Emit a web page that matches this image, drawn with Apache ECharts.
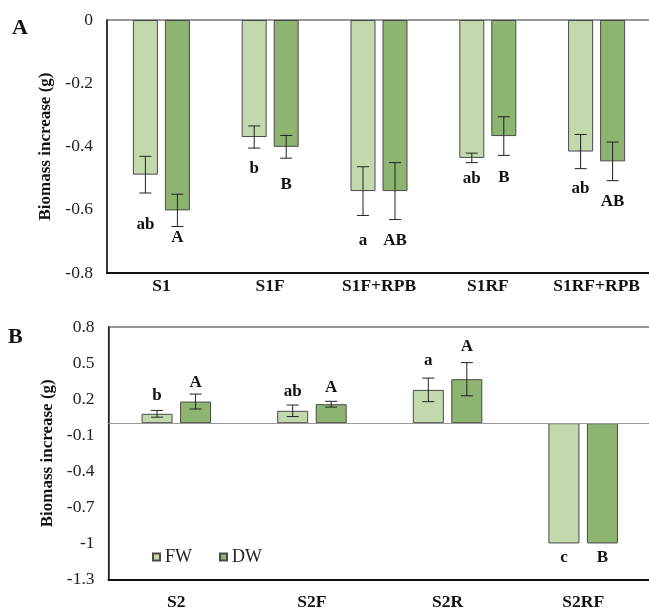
<!DOCTYPE html>
<html><head><meta charset="utf-8">
<script src="https://cdn.jsdelivr.net/npm/echarts@6/dist/echarts.min.js"></script>
<style>html,body{margin:0;padding:0;background:#fff}#c{width:649px;height:609px}</style>
</head><body><div id="c"></div>
<script>
// Panel A data
const catsA = ['S1', 'S1F', 'S1F+RPB', 'S1RF', 'S1RF+RPB'];
const fwA = [-0.489, -0.370, -0.541, -0.436, -0.416];
const dwA = [-0.602, -0.401, -0.541, -0.367, -0.447];
const fwErrA = [0.058, 0.035, 0.077, 0.015, 0.054];
const dwErrA = [0.051, 0.036, 0.090, 0.061, 0.061];
const fwLetA = ['ab', 'b', 'a', 'ab', 'ab'];
const dwLetA = ['A', 'B', 'AB', 'B', 'AB'];
const fwLetYA = [-0.646, -0.469, -0.697, -0.503, -0.533];
const dwLetYA = [-0.687, -0.522, -0.697, -0.498, -0.573];
const ticksA = [0, -0.2, -0.4, -0.6, -0.8];

// Panel B data
const catsB = ['S2', 'S2F', 'S2R', 'S2RF'];
const fwB = [0.078, 0.103, 0.277, -1.0];
const dwB = [0.180, 0.158, 0.366, -1.0];
const fwErrB = [0.028, 0.048, 0.098, 0];
const dwErrB = [0.062, 0.024, 0.138, 0];
const fwLetB = ['b', 'ab', 'a', 'c'];
const dwLetB = ['A', 'A', 'A', 'B'];
const fwLetYB = [0.230, 0.266, 0.521, -1.119];
const dwLetYB = [0.341, 0.294, 0.640, -1.119];
const ticksB = [0.8, 0.5, 0.2, -0.1, -0.4, -0.7, -1, -1.3];

const FONT = '"Liberation Serif", "Times New Roman", serif';
const FW_COLOR = '#c3d9ad', DW_COLOR = '#8db471', EDGE = '#4a4a4a';

const chart = echarts.init(document.getElementById('c'), null, {renderer: 'canvas'});

function errSeries(gi, vals, errs, letters, letterY, side, barW, gap) {
  return {
    type: 'custom', xAxisIndex: gi, yAxisIndex: gi, silent: true, z: 10,
    encode: {x: 0, y: 1},
    data: vals.map((v, i) => [i, v, errs[i], letterY[i]]),
    renderItem(params, api) {
      const i = api.value(0), v = api.value(1), e = api.value(2), ly = api.value(3);
      const c = api.coord([i, v]);
      const x = c[0] + side * (barW + gap) / 2;
      const ch = [];
      const st = {stroke: '#222', lineWidth: 1};
      if (e > 0) {
        const t = api.coord([i, v + e])[1], b = api.coord([i, v - e])[1];
        const hw = 6;
        ch.push({type: 'line', shape: {x1: x, y1: t, x2: x, y2: b}, style: st});
        ch.push({type: 'line', shape: {x1: x - hw, y1: t, x2: x + hw, y2: t}, style: st});
        ch.push({type: 'line', shape: {x1: x - hw, y1: b, x2: x + hw, y2: b}, style: st});
      }
      const ty = api.coord([i, ly])[1];
      ch.push({type: 'text', style: {text: letters[params.dataIndex], x: x, y: ty,
        align: 'center', verticalAlign: 'middle', font: 'bold 17px ' + FONT, fill: '#111'}});
      return {type: 'group', children: ch};
    }
  };
}

function fmt(v, list) {
  const r = Math.round(v * 10) / 10;
  return list.some(t => Math.abs(t - r) < 1e-6) ? String(r) : '';
}

const yCommon = {
  axisLine: {show: true, lineStyle: {color: '#222', width: 1.5}},
  axisTick: {show: false}, splitLine: {show: false},
  name: 'Biomass increase (g)', nameLocation: 'middle', nameGap: 52,
  nameTextStyle: {fontFamily: FONT, fontWeight: 'bold', fontSize: 17, color: '#111'}
};
const xCommon = {
  type: 'category', axisTick: {show: false},
  axisLine: {onZero: false, lineStyle: {color: '#111', width: 2}},
};

const barA = {barW: 25, gap: 7};
const barB = {barW: 31, gap: 7.5};

chart.setOption({
  animation: false,
  grid: [
    {left: 107, right: -2, top: 20, height: 253, outerBoundsMode: 'none', containLabel: false,
      show: true, borderColor: '#333', borderWidth: 1.2},
    {left: 108.5, right: -2, top: 327, height: 252.5, outerBoundsMode: 'none', containLabel: false,
      show: true, borderColor: '#333', borderWidth: 1.2}
  ],
  legend: {
    data: ['FW', 'DW'], left: 147, top: 543, itemWidth: 7, itemHeight: 7, itemGap: 27,
    icon: 'rect', selectedMode: false,
    textStyle: {fontFamily: FONT, fontSize: 18, color: '#222'}
  },
  xAxis: [
    Object.assign({}, xCommon, {gridIndex: 0, data: catsA,
      axisLabel: {interval: 0, fontFamily: FONT, fontWeight: 'bold', fontSize: 17.5, color: '#111', margin: 4}}),
    Object.assign({}, xCommon, {gridIndex: 1, data: catsB,
      axisLabel: {interval: 0, fontFamily: FONT, fontWeight: 'bold', fontSize: 17.5, color: '#111', margin: 14}})
  ],
  yAxis: [
    Object.assign({}, yCommon, {gridIndex: 0, type: 'value', min: -0.8, max: 0, interval: 0.2,
      axisLabel: {fontFamily: FONT, fontSize: 17.5, color: '#222', margin: 14,
        formatter: v => fmt(v, ticksA)}}),
    Object.assign({}, yCommon, {gridIndex: 1, type: 'value', min: -1.3, max: 0.8, interval: 0.1,
      axisLabel: {fontFamily: FONT, fontSize: 17.5, color: '#222', margin: 14,
        formatter: v => fmt(v, ticksB)}})
  ],
  series: [
    {name: 'FW', type: 'bar', xAxisIndex: 0, yAxisIndex: 0, data: fwA, barWidth: barA.barW,
      barGap: (barA.gap / barA.barW * 100) + '%',
      itemStyle: {color: FW_COLOR, borderColor: EDGE, borderWidth: 1}},
    {name: 'DW', type: 'bar', xAxisIndex: 0, yAxisIndex: 0, data: dwA, barWidth: barA.barW,
      barGap: (barA.gap / barA.barW * 100) + '%',
      itemStyle: {color: DW_COLOR, borderColor: EDGE, borderWidth: 1}},
    {name: 'FW', type: 'bar', xAxisIndex: 1, yAxisIndex: 1, data: fwB, barWidth: barB.barW,
      barGap: (barB.gap / barB.barW * 100) + '%',
      itemStyle: {color: FW_COLOR, borderColor: EDGE, borderWidth: 1},
      markLine: {silent: true, symbol: 'none', label: {show: false},
        lineStyle: {color: '#999', type: 'solid', width: 1}, data: [{yAxis: 0}]}},
    {name: 'DW', type: 'bar', xAxisIndex: 1, yAxisIndex: 1, data: dwB, barWidth: barB.barW,
      barGap: (barB.gap / barB.barW * 100) + '%',
      itemStyle: {color: DW_COLOR, borderColor: EDGE, borderWidth: 1}},
    errSeries(0, fwA, fwErrA, fwLetA, fwLetYA, -1, barA.barW, barA.gap),
    errSeries(0, dwA, dwErrA, dwLetA, dwLetYA, 1, barA.barW, barA.gap),
    errSeries(1, fwB, fwErrB, fwLetB, fwLetYB, -1, barB.barW, barB.gap),
    errSeries(1, dwB, dwErrB, dwLetB, dwLetYB, 1, barB.barW, barB.gap)
  ],
  graphic: [
    {type: 'text', left: 12, top: 17, style: {text: 'A', font: 'bold 22px ' + FONT, fill: '#111'}},
    {type: 'text', left: 8, top: 326, style: {text: 'B', font: 'bold 22px ' + FONT, fill: '#111'}}
  ]
});
</script>
</body></html>
